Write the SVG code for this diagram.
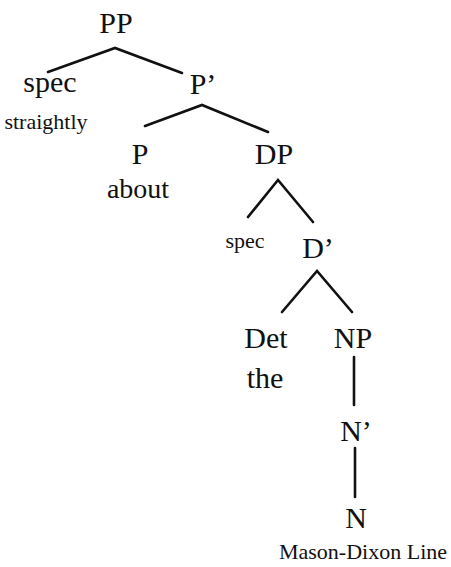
<svg xmlns="http://www.w3.org/2000/svg" width="451" height="567" viewBox="0 0 451 567">
  <style>
    .lbl { font-family: "Liberation Serif", "Times New Roman", serif; fill: #111; text-anchor: middle; }
    .big { font-size: 30px; }
    .word { font-size: 28px; }
    .small { font-size: 22px; }
    .edge { stroke: #111; stroke-width: 2.6; fill: none; stroke-linecap: round; }
  </style>
  <rect width="451" height="567" fill="#fff"/>

  <g id="connectors">
    <polyline class="edge" points="48,72 115,48 182,73"/>
    <polyline class="edge" points="145,126 202,105 268,132"/>
    <polyline class="edge" points="248,217 278,180 313,222"/>
    <polyline class="edge" points="282,312 317,271 352,312"/>
    <line class="edge" x1="354" y1="357" x2="354" y2="405"/>
    <line class="edge" x1="355" y1="448" x2="355" y2="497"/>
  </g>

  <g id="node-PP"><text class="lbl big" x="116" y="33">PP</text></g>
  <g id="node-spec1">
    <text class="lbl big" x="50" y="92">spec</text>
    <text class="lbl small" x="46" y="129">straightly</text>
  </g>
  <g id="node-Pbar"><text class="lbl big" x="203" y="94">P’</text></g>
  <g id="node-P">
    <text class="lbl big" x="140" y="164">P</text>
    <text class="lbl word" x="138" y="198">about</text>
  </g>
  <g id="node-DP"><text class="lbl big" x="274" y="164">DP</text></g>
  <g id="node-spec2"><text class="lbl small" x="245" y="248">spec</text></g>
  <g id="node-Dbar"><text class="lbl big" x="318" y="258">D’</text></g>
  <g id="node-Det">
    <text class="lbl big" x="266" y="348">Det</text>
    <text class="lbl big" x="265" y="388">the</text>
  </g>
  <g id="node-NP"><text class="lbl big" x="353" y="348">NP</text></g>
  <g id="node-Nbar"><text class="lbl big" x="356" y="441">N’</text></g>
  <g id="node-N">
    <text class="lbl big" x="356" y="528">N</text>
    <text class="lbl small" x="363" y="559">Mason-Dixon Line</text>
  </g>
</svg>
